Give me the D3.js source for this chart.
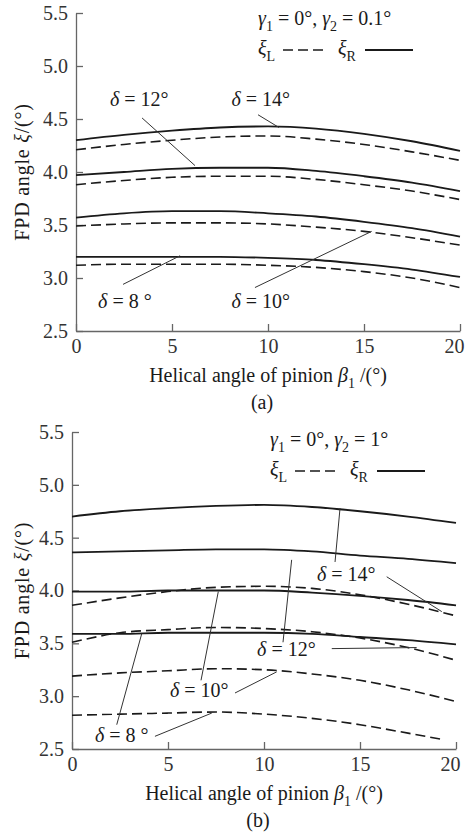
<!DOCTYPE html>
<html>
<head>
<meta charset="utf-8">
<script src="https://cdn.jsdelivr.net/npm/d3@7"></script>
<style>
  body { margin: 0; background: #fff; }
  svg { display: block; font-family: "Liberation Serif", "Times New Roman", serif; }
</style>
</head>
<body>
<svg id="chart"></svg>
<script>
// Helical angle of pinion (x values)
const beta = [0, 2.5, 5, 7.5, 10, 12.5, 15, 17.5, 20];
const betaShort = [0, 2.5, 5, 7.5, 10, 12.5, 15, 17.5, 19.3];
const xTicks = [0, 5, 10, 15, 20];
const yTicks = [2.5, 3.0, 3.5, 4.0, 4.5, 5.0, 5.5];

// (a) gamma2 = 0.1 deg
const aR14 = [4.30, 4.35, 4.39, 4.42, 4.43, 4.41, 4.36, 4.29, 4.20];
const aL14 = [4.21, 4.26, 4.30, 4.33, 4.34, 4.31, 4.26, 4.19, 4.11];
const aR12 = [3.97, 4.00, 4.03, 4.04, 4.04, 4.01, 3.96, 3.90, 3.82];
const aL12 = [3.88, 3.92, 3.95, 3.96, 3.96, 3.93, 3.88, 3.82, 3.74];
const aR10 = [3.57, 3.61, 3.63, 3.63, 3.61, 3.58, 3.53, 3.47, 3.39];
const aL10 = [3.49, 3.51, 3.52, 3.52, 3.51, 3.48, 3.44, 3.38, 3.31];
const aR8  = [3.20, 3.20, 3.20, 3.20, 3.19, 3.17, 3.13, 3.08, 3.01];
const aL8  = [3.12, 3.13, 3.13, 3.13, 3.12, 3.10, 3.06, 3.00, 2.91];

// (b) gamma2 = 1 deg
const bR14 = [4.70, 4.75, 4.78, 4.80, 4.81, 4.79, 4.75, 4.70, 4.64];
const bL14 = [3.86, 3.93, 3.99, 4.03, 4.04, 4.02, 3.96, 3.87, 3.76];
const bR12 = [4.36, 4.37, 4.38, 4.39, 4.39, 4.37, 4.33, 4.30, 4.26];
const bL12 = [3.51, 3.60, 3.63, 3.65, 3.64, 3.61, 3.55, 3.46, 3.34];
const bR10 = [3.99, 3.99, 4.00, 4.00, 4.00, 3.98, 3.95, 3.91, 3.86];
const bL10 = [3.19, 3.22, 3.24, 3.26, 3.25, 3.21, 3.15, 3.06, 2.95];
const bR8  = [3.59, 3.59, 3.60, 3.60, 3.60, 3.59, 3.56, 3.53, 3.49];
const bL8  = [2.82, 2.83, 2.84, 2.85, 2.83, 2.79, 2.73, 2.65, 2.59];

// delta labels: text anchor [beta, xi] and leader lines [[b1, xi1], [b2, xi2]]
const aLabels = [
  { delta: '12', at: [1.77, 4.62], leaders: [[[3.44, 4.51], [6.2, 4.06]]] },
  { delta: '14', at: [8.1, 4.62],  leaders: [[[9.48, 4.54], [10.57, 4.42]]] },
  { delta: '8 ', at: [1.15, 2.72], leaders: [[[2.45, 2.94], [5.42, 3.21]]] },
  { delta: '10', at: [8.1, 2.72],  leaders: [[[9.32, 2.91], [15.4, 3.44]]] }
];
const bLabels = [
  { delta: '14', at: [12.76, 4.09], leaders: [[[13.96, 4.78], [13.7, 4.27]], [[16.39, 4.13], [19.26, 3.80]]] },
  { delta: '12', at: [9.64, 3.38],  leaders: [[[11.44, 4.29], [10.99, 3.51]], [[13.53, 3.45], [17.95, 3.46]]] },
  { delta: '10', at: [5.1, 2.99],   leaders: [[[7.62, 3.99], [6.72, 3.15]], [[8.49, 3.03], [10.66, 3.23]]] },
  { delta: '8 ', at: [1.2, 2.57],   leaders: [[[3.63, 3.59], [2.33, 2.73]], [[4.32, 2.62], [7.28, 2.84]]] }
];

const panels = [
  {
    caption: '(a)', gamma2: '0.1',
    left: 76, right: 460, top: 13, bottom: 331,
    legendX: 258, legendY: 25,
    labels: aLabels,
    series: [
      { x: beta, y: aR14, dashed: false }, { x: beta, y: aL14, dashed: true },
      { x: beta, y: aR12, dashed: false }, { x: beta, y: aL12, dashed: true },
      { x: beta, y: aR10, dashed: false }, { x: beta, y: aL10, dashed: true },
      { x: beta, y: aR8,  dashed: false }, { x: beta, y: aL8,  dashed: true }
    ]
  },
  {
    caption: '(b)', gamma2: '1',
    left: 72, right: 456, top: 432, bottom: 749,
    legendX: 270, legendY: 446,
    labels: bLabels,
    series: [
      { x: beta, y: bR14, dashed: false }, { x: beta, y: bL14, dashed: true },
      { x: beta, y: bR12, dashed: false }, { x: beta, y: bL12, dashed: true },
      { x: beta, y: bR10, dashed: false }, { x: beta, y: bL10, dashed: true },
      { x: beta, y: bR8,  dashed: false }, { x: betaShort, y: bL8, dashed: true }
    ]
  }
];

const svg = d3.select('#chart')
  .attr('width', 465)
  .attr('height', 835);

svg.append('rect').attr('width', 465).attr('height', 835).attr('fill', '#fff');

const ink = '#1a1a1a';
const axisInk = '#666';

// append a text made of plain / italic / subscript pieces
function richText(g, x, y, parts, size) {
  const t = g.append('text')
    .attr('x', x)
    .attr('y', y)
    .attr('fill', ink)
    .style('font-size', size + 'px');
  let shift = 0;
  parts.forEach(p => {
    const s = t.append('tspan').text(p.t);
    if (p.i) s.style('font-style', 'italic');
    if (p.sub) {
      s.attr('dy', size * 0.28).style('font-size', (size * 0.7) + 'px');
      shift = size * 0.28;
    } else if (shift) {
      s.attr('dy', -shift);
      shift = 0;
    }
  });
  return t;
}

panels.forEach(p => {
  const x = d3.scaleLinear().domain([0, 20]).range([p.left, p.right]);
  const y = d3.scaleLinear().domain([2.5, 5.5]).range([p.bottom, p.top]);
  const g = svg.append('g');

  // Axes, ticks pointing inward
  const xAxis = d3.axisBottom(x).tickValues(xTicks).tickFormat(d3.format('d'))
    .tickSizeInner(-7).tickSizeOuter(0).tickPadding(8);
  const yAxis = d3.axisLeft(y).tickValues(yTicks).tickFormat(d3.format('.1f'))
    .tickSizeInner(-7).tickSizeOuter(0).tickPadding(8);

  const xg = g.append('g').attr('transform', `translate(0,${p.bottom})`).call(xAxis);
  const yg = g.append('g').attr('transform', `translate(${p.left},0)`).call(yAxis);
  [xg, yg].forEach(a => {
    a.attr('font-family', null).attr('font-size', null);
    a.select('.domain').attr('stroke', axisInk).attr('stroke-width', 1.3);
    a.selectAll('.tick line').attr('stroke', axisInk).attr('stroke-width', 1.3);
    a.selectAll('.tick text').attr('fill', '#333').style('font-size', '20px');
  });
  // last x label sits flush with the right edge
  xg.selectAll('.tick text')
    .filter(d => d === 20)
    .attr('text-anchor', 'end')
    .attr('x', 4);

  // Curves
  const line = d3.line()
    .x(d => x(d[0]))
    .y(d => y(d[1]))
    .curve(d3.curveMonotoneX);

  g.selectAll('.curve')
    .data(p.series)
    .enter()
    .append('path')
    .attr('class', 'curve')
    .attr('d', s => line(s.x.map((b, i) => [b, s.y[i]])))
    .attr('fill', 'none')
    .attr('stroke', ink)
    .attr('stroke-width', s => s.dashed ? 1.6 : 1.8)
    .attr('stroke-dasharray', s => s.dashed ? '10,5' : null);

  // delta annotations
  p.labels.forEach(l => {
    l.leaders.forEach(seg => {
      g.append('line')
        .attr('x1', x(seg[0][0])).attr('y1', y(seg[0][1]))
        .attr('x2', x(seg[1][0])).attr('y2', y(seg[1][1]))
        .attr('stroke', '#333')
        .attr('stroke-width', 1);
    });
    richText(g, x(l.at[0]), y(l.at[1]), [
      { t: '\u03b4', i: true },
      { t: ' = ' + l.delta + '\u00b0' }
    ], 20);
  });

  // Legend
  richText(g, p.legendX, p.legendY, [
    { t: '\u03b3', i: true }, { t: '1', sub: true }, { t: ' = 0\u00b0, ' },
    { t: '\u03b3', i: true }, { t: '2', sub: true }, { t: ' = ' + p.gamma2 + '\u00b0' }
  ], 20);
  const ly = p.legendY + 30;
  richText(g, p.legendX, ly, [{ t: '\u03be', i: true }, { t: 'L', sub: true }], 20);
  g.append('line')
    .attr('x1', p.legendX + 25).attr('x2', p.legendX + 70)
    .attr('y1', ly - 5).attr('y2', ly - 5)
    .attr('stroke', ink).attr('stroke-width', 1.6)
    .attr('stroke-dasharray', '10,5');
  richText(g, p.legendX + 80, ly, [{ t: '\u03be', i: true }, { t: 'R', sub: true }], 20);
  g.append('line')
    .attr('x1', p.legendX + 107).attr('x2', p.legendX + 155)
    .attr('y1', ly - 5).attr('y2', ly - 5)
    .attr('stroke', ink).attr('stroke-width', 1.8);

  // Axis titles
  const xt = richText(g, (p.left + p.right) / 2, p.bottom + 51, [
    { t: 'Helical angle of pinion  ' },
    { t: '\u03b2', i: true }, { t: '1', sub: true }, { t: ' /(\u00b0)' }
  ], 20);
  xt.attr('text-anchor', 'middle');

  const yt = richText(g, 0, 0, [
    { t: 'FPD angle ' }, { t: '\u03be', i: true }, { t: '/(\u00b0)' }
  ], 20);
  yt.attr('text-anchor', 'middle')
    .style('letter-spacing', '0.8px')
    .attr('transform', `translate(29,${(p.top + p.bottom) / 2}) rotate(-90)`);

  // Caption
  g.append('text')
    .attr('x', (p.left + p.right) / 2 - 6)
    .attr('y', p.bottom + 78)
    .attr('text-anchor', 'middle')
    .attr('fill', ink)
    .style('font-size', '20px')
    .text(p.caption);
});
</script>
</body>
</html>
